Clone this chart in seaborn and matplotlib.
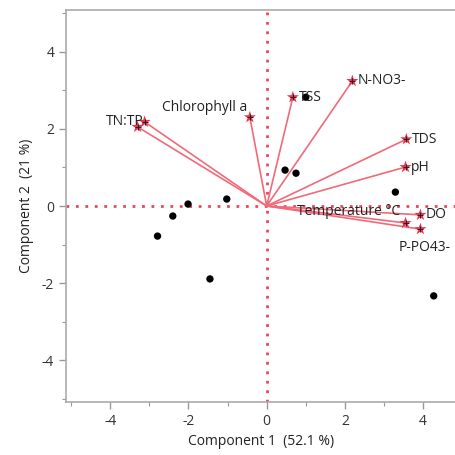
import matplotlib
matplotlib.use("Agg")
import matplotlib.pyplot as plt
import seaborn as sns
import pandas as pd
from matplotlib.ticker import MultipleLocator

# Scores (observations)
score_x = [-2.01, -2.40, -2.79, -1.02, -1.45, 0.47, 0.75, 3.29, 4.27, 1.00]
score_y = [0.05, -0.26, -0.78, 0.18, -1.89, 0.93, 0.85, 0.36, -2.33, 2.82]

# Loadings (variables)
var_names = ["TN:TP", "TN:TP2", "Chlorophyll a", "TSS", "N-NO3-", "TDS", "pH",
             "DO", "Temperature °C", "P-PO43-"]
var_labels = ["TN:TP", "", "Chlorophyll a", "TSS", "N-NO3-", "TDS", "pH",
              "DO", "Temperature °C", "P-PO43-"]
load_x = [-3.12, -3.30, -0.43, 0.67, 2.19, 3.57, 3.55, 3.93, 3.55, 3.93]
load_y = [2.18, 2.05, 2.30, 2.82, 3.24, 1.73, 1.01, -0.23, -0.44, -0.60]

sns.set_theme(style="white")
plt.rcParams['font.family'] = ['Open Sans', 'DejaVu Sans']
plt.rcParams['axes.unicode_minus'] = False

fig = plt.figure(figsize=(4.56, 4.55), dpi=100)
ax = fig.add_axes([66/456, 1-402/455, 1-66/456, (402-10)/455])

ax.set_xlim(-5.13, 4.84)
ax.set_ylim(-5.08, 5.08)

red = "#e8485c"
ax.axhline(0, color=red, ls=(0, (1, 2.4)), lw=2, zorder=1)
ax.axvline(0, color=red, ls=(0, (1, 2.4)), lw=2, zorder=1)

for lx, ly in zip(load_x, load_y):
    ax.plot([0, lx], [0, ly], color="#f06a7a", lw=1.2, zorder=2)

sdf = pd.DataFrame({"x": score_x, "y": score_y})
sns.scatterplot(data=sdf, x="x", y="y", color="black", s=28, edgecolor="none", ax=ax, zorder=3)

ldf = pd.DataFrame({"x": load_x, "y": load_y, "name": var_names})
sns.scatterplot(data=ldf, x="x", y="y", marker="*", color="#e8334a", s=85,
                edgecolor="none", linewidth=0, ax=ax, zorder=4)
ax.scatter(load_x, load_y, marker="+", color="#222222", s=22, lw=0.7, zorder=5)

offsets = {
    "TN:TP": (-1, 0, "right", "center"),
    "Chlorophyll a": (-2, 7, "right", "center"),
    "TSS": (4, 0, "left", "center"),
    "N-NO3-": (4, 0, "left", "center"),
    "TDS": (4, 0, "left", "center"),
    "pH": (4, 0, "left", "center"),
    "DO": (4, 0, "left", "center"),
    "Temperature °C": (-4, 8, "right", "center"),
    "P-PO43-": (3, -13, "center", "center"),
}
for lab, lx, ly in zip(var_labels, load_x, load_y):
    if not lab:
        continue
    dx, dy, ha, va = offsets[lab]
    ax.annotate(lab, (lx, ly), xytext=(dx, dy), textcoords="offset points",
                ha=ha, va=va, fontsize=10, color="#222222", zorder=6)

ax.set_xticks([-4, -2, 0, 2, 4])
ax.set_yticks([-4, -2, 0, 2, 4])
ax.xaxis.set_minor_locator(MultipleLocator(1))
ax.yaxis.set_minor_locator(MultipleLocator(1))
ax.tick_params(which="both", direction="out", color="#999999", left=True, bottom=True,
               labelsize=10, labelcolor="#333333")
ax.tick_params(which="major", length=5, width=1)
ax.tick_params(which="minor", length=3, width=0.8)

for s in ["left", "bottom", "top"]:
    ax.spines[s].set_color("#aaaaaa")
    ax.spines[s].set_linewidth(1.2)
ax.spines["right"].set_visible(False)

ax.set_xlabel("Component 1  (52.1 %)", fontsize=10, color="#222222", labelpad=4)
ax.set_ylabel("Component 2  (21 %)", fontsize=10, color="#222222", labelpad=6)

fig.savefig("out.png", dpi=100)
